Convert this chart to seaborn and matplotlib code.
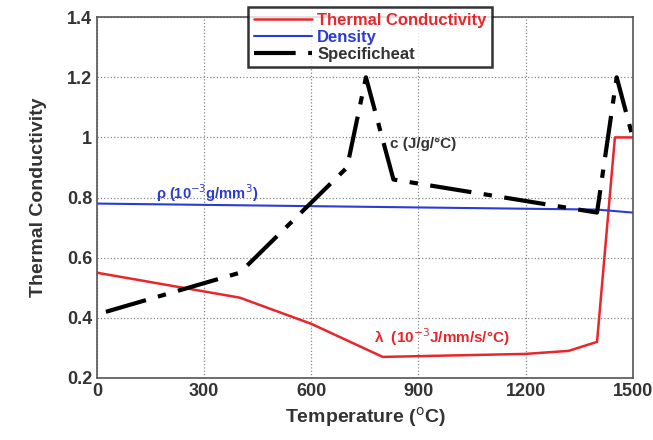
import pandas as pd
import numpy as np
import matplotlib
matplotlib.use("Agg")
import matplotlib.pyplot as plt
import seaborn as sns

# values
temp_k = [0, 400, 600, 800, 1200, 1320, 1400, 1450, 1500]
conductivity = [0.55, 0.467, 0.38, 0.27, 0.28, 0.29, 0.32, 1.0, 1.0]

temp_rho = [0, 1400, 1500]
density = [0.78, 0.76, 0.75]

temp_c = [25, 400, 700, 753, 830, 1400, 1455, 1500]
specific_heat = [0.42, 0.55, 0.9, 1.2, 0.86, 0.75, 1.2, 1.0]

x_ticks = [0, 300, 600, 900, 1200, 1500]
y_ticks = [0.2, 0.4, 0.6, 0.8, 1.0, 1.2, 1.4]
y_labels = ["0.2", "0.4", "0.6", "0.8", "1", "1.2", "1.4"]

sns.set_style("white")
plt.rcParams['font.family'] = ['Liberation Sans', 'DejaVu Sans']

fig = plt.figure(figsize=(6.53, 4.4), dpi=100)
ax = fig.add_axes([0.1485, 0.141, 0.8205, 0.82])

df_k = pd.DataFrame({"T": temp_k, "v": conductivity})
df_r = pd.DataFrame({"T": temp_rho, "v": density})
df_c = pd.DataFrame({"T": temp_c, "v": specific_heat})

sns.lineplot(data=df_k, x="T", y="v", ax=ax, color="#e8262b", lw=1.8, label="Thermal Conductivity")
sns.lineplot(data=df_r, x="T", y="v", ax=ax, color="#2b3bd6", lw=1.5, label="Density")
sns.lineplot(data=df_c, x="T", y="v", ax=ax, color="black", lw=3, label="Specificheat")
ax.lines[2].set_dashes([10, 3, 2, 3])

ax.set_xlim(0, 1500)
ax.set_ylim(0.2, 1.4)
ax.set_xticks(x_ticks)
ax.set_yticks(y_ticks)
ax.set_yticklabels(y_labels)
ax.tick_params(axis="both", labelsize=13, direction="in", length=4)
for lab in ax.get_xticklabels() + ax.get_yticklabels():
    lab.set_fontweight("bold")
    lab.set_color("#333333")
ax.grid(True, linestyle=":", color="#888888", lw=0.9)
for s in ax.spines.values():
    s.set_color("#555555")
    s.set_linewidth(1.2)

ax.set_xlabel("Temperature ($^{\\mathrm{o}}$C)", fontsize=14, fontweight="bold", color="#333333")
ax.set_ylabel("Thermal Conductivity", fontsize=14, fontweight="bold", color="#333333", labelpad=14)

ax.text(165, 0.795, "ρ (10$^{-3}$g/mm$^{3}$)", color="#2b3bd6", fontsize=10.5, fontweight="bold")
ax.text(820, 0.965, "c (J/g/°C)", color="#333333", fontsize=11, fontweight="bold")
ax.text(775, 0.315, "λ  (10$^{-3}$J/mm/s/°C)", color="#e8262b", fontsize=11, fontweight="bold")

leg = ax.legend(loc="upper left", bbox_to_anchor=(0.282, 1.027), fontsize=12, frameon=True,
                fancybox=False, borderpad=0.35, labelspacing=0.1, handlelength=3.5,
                handletextpad=0.3, borderaxespad=0)
leg.get_frame().set_edgecolor("black")
leg.get_frame().set_linewidth(1.8)
for t, c in zip(leg.get_texts(), ["#e8262b", "#2b3bd6", "#333333"]):
    t.set_color(c)
    t.set_fontweight("bold")

fig.savefig("out.png", dpi=100)
